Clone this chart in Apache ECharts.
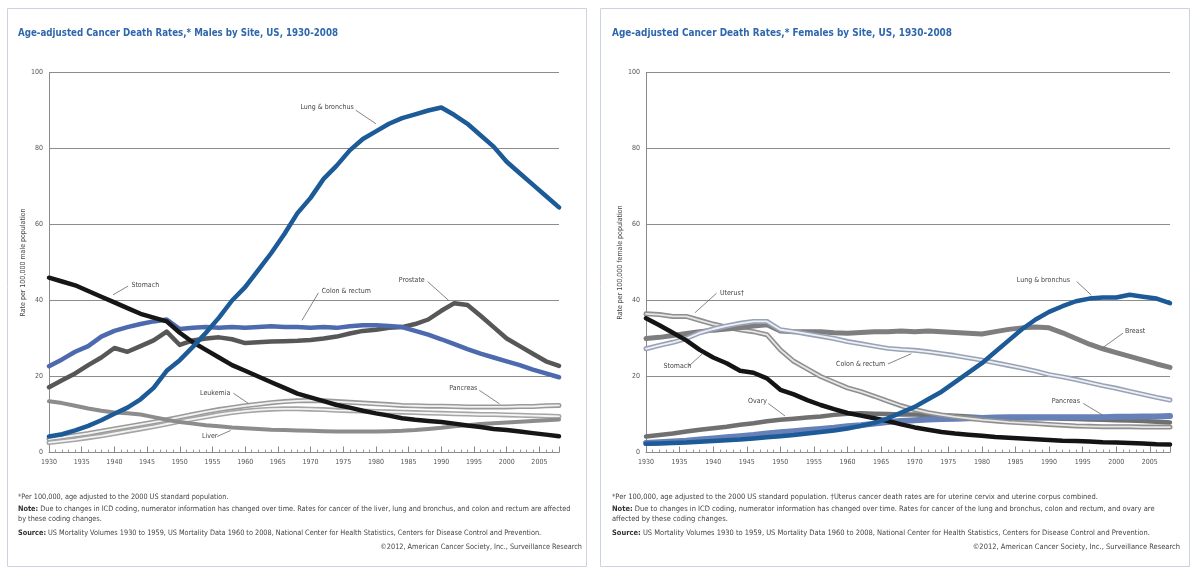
<!DOCTYPE html>
<html>
<head>
<meta charset="utf-8">
<script src="https://cdn.jsdelivr.net/npm/echarts@6/dist/echarts.min.js"></script>
<style>html,body{margin:0;padding:0;background:#fff}#c{width:1192px;height:570px}</style>
</head>
<body>
<div id="c"></div>
<script>
// ---------- DATA ----------
const years = [1930,1932,1934,1936,1938,1940,1942,1944,1946,1948,1950,1952,1954,1956,1958,1960,1962,1964,1966,1968,1970,1972,1974,1976,1978,1980,1982,1984,1986,1988,1990,1992,1994,1996,1998,2000,2002,2004,2006,2008];
const xTickYears = [1930,1935,1940,1945,1950,1955,1960,1965,1970,1975,1980,1985,1990,1995,2000,2005];
const yTicks = [0,20,40,60,80,100];

// Males
const maleLung     = [4.2,4.8,5.8,7.0,8.5,10.2,11.8,14.0,17.0,21.5,24.3,27.8,31.5,35.5,40.0,43.5,48.0,52.5,57.5,63.0,67.0,72.0,75.5,79.5,82.5,84.5,86.5,88.0,89.0,90.0,90.8,88.8,86.5,83.5,80.5,76.5,73.5,70.5,67.5,64.5];
const maleStomach  = [46.0,45.0,44.0,42.5,41.0,39.5,38.0,36.5,35.5,34.5,31.5,29.0,27.0,25.0,23.0,21.5,20.0,18.5,17.0,15.5,14.5,13.5,12.5,11.8,11.0,10.3,9.7,9.0,8.6,8.3,8.0,7.6,7.1,6.7,6.2,5.9,5.5,5.1,4.7,4.3];
const maleColon    = [22.7,24.5,26.5,28.0,30.5,32.0,33.0,33.8,34.5,35.0,32.5,32.8,33.0,32.8,33.0,32.8,33.0,33.2,33.0,33.0,32.8,33.0,32.8,33.2,33.5,33.5,33.3,33.0,32.0,31.0,29.8,28.5,27.2,26.0,25.0,24.0,23.0,21.8,20.8,19.8];
const maleProstate = [17.2,19.0,20.8,23.0,25.0,27.5,26.5,28.0,29.5,31.8,28.3,29.5,30.0,30.3,29.8,28.8,29.0,29.2,29.3,29.4,29.6,30.0,30.5,31.3,32.0,32.3,32.8,33.0,33.8,35.0,37.3,39.3,38.8,36.0,33.0,30.0,28.0,26.0,24.0,22.8];
const malePancreas = [3.5,4.0,4.5,5.0,5.6,6.2,6.8,7.4,8.0,8.6,9.3,10.0,10.7,11.3,11.8,12.3,12.7,13.1,13.4,13.6,13.7,13.6,13.4,13.2,13.0,12.8,12.6,12.4,12.3,12.2,12.2,12.1,12.0,12.0,12.0,12.0,12.1,12.1,12.3,12.4];
const maleLeukemia = [2.6,3.0,3.4,3.9,4.4,5.0,5.6,6.2,6.8,7.5,8.2,8.8,9.4,10.0,10.5,10.9,11.2,11.4,11.5,11.5,11.4,11.3,11.1,11.0,10.9,10.8,10.7,10.6,10.5,10.4,10.3,10.2,10.1,10.0,10.0,9.9,9.8,9.7,9.6,9.5];
const maleLiver    = [13.5,13.0,12.3,11.6,11.0,10.5,10.3,10.0,9.3,8.6,8.0,7.6,7.2,6.9,6.6,6.4,6.2,6.0,5.9,5.8,5.7,5.6,5.5,5.5,5.5,5.5,5.6,5.7,5.9,6.2,6.5,6.9,7.2,7.5,7.7,7.9,8.1,8.3,8.5,8.7];

// Females
const femLung     = [2.3,2.4,2.5,2.6,2.8,3.0,3.2,3.4,3.7,4.0,4.3,4.6,5.0,5.4,5.8,6.3,7.0,7.8,9.0,10.5,12.0,14.0,16.0,18.5,21.0,23.5,26.5,29.5,32.5,35.0,37.0,38.5,39.8,40.5,40.8,40.8,41.5,41.0,40.5,39.3];
const femStomach  = [35.3,33.5,31.5,29.5,27.0,25.0,23.5,21.5,21.0,19.5,16.5,15.3,13.8,12.5,11.4,10.4,9.7,9.0,8.3,7.4,6.6,6.0,5.4,5.0,4.7,4.4,4.1,3.9,3.7,3.5,3.3,3.1,3.0,2.9,2.7,2.6,2.5,2.4,2.2,2.1];
const femBreast   = [30.0,30.3,30.8,31.3,31.8,32.2,32.5,32.8,33.3,33.6,32.0,31.8,31.8,31.8,31.5,31.4,31.6,31.8,31.8,32.0,31.8,32.0,31.8,31.6,31.4,31.2,31.8,32.4,32.8,33.0,32.8,31.5,30.0,28.5,27.3,26.3,25.3,24.3,23.3,22.4];
const femUterus   = [36.5,36.3,35.8,35.8,34.8,33.8,33.0,32.3,31.8,31.0,27.0,24.0,22.0,20.0,18.5,17.0,16.0,14.8,13.5,12.3,11.3,10.5,9.9,9.4,9.0,8.6,8.3,8.0,7.8,7.6,7.4,7.2,7.0,6.9,6.8,6.8,6.8,6.7,6.7,6.7];
const femColon    = [27.3,28.2,29.0,30.0,31.5,32.5,33.3,34.0,34.5,34.5,32.3,31.8,31.2,30.6,30.0,29.2,28.6,28.0,27.4,27.1,26.9,26.5,26.0,25.5,24.9,24.3,23.6,22.9,22.2,21.4,20.5,19.9,19.2,18.4,17.6,16.9,16.1,15.3,14.5,13.8];
const femOvary    = [4.2,4.6,5.0,5.5,6.0,6.4,6.8,7.3,7.7,8.2,8.6,8.9,9.2,9.5,9.9,10.2,10.3,10.2,10.1,10.0,10.0,9.9,9.8,9.7,9.5,9.3,9.2,9.1,9.0,9.0,9.0,8.9,8.8,8.7,8.6,8.5,8.4,8.3,8.1,7.9];
const femPancreas = [2.5,2.7,2.9,3.1,3.4,3.7,4.0,4.3,4.6,5.0,5.3,5.6,5.9,6.2,6.5,6.9,7.2,7.6,8.0,8.3,8.5,8.7,8.8,8.9,9.0,9.1,9.2,9.3,9.3,9.3,9.3,9.3,9.3,9.3,9.3,9.4,9.4,9.5,9.5,9.6];

// Texts
const titles = ["Age-adjusted Cancer Death Rates,* Males by Site, US, 1930-2008",
                "Age-adjusted Cancer Death Rates,* Females by Site, US, 1930-2008"];
const yNames = ["Rate per 100,000 male population", "Rate per 100,000 female population"];
const maleNotes = [
  "*Per 100,000, age adjusted to the 2000 US standard population.",
  "{b|Note:} Due to changes in ICD coding, numerator information has changed over time. Rates for cancer of the liver, lung and bronchus, and colon and rectum are affected",
  "by these coding changes.",
  "{b|Source:} US Mortality Volumes 1930 to 1959, US Mortality Data 1960 to 2008, National Center for Health Statistics, Centers for Disease Control and Prevention.",
  "©2012, American Cancer Society, Inc., Surveillance Research"
];
const femNotes = [
  "*Per 100,000, age adjusted to the 2000 US standard population. †Uterus cancer death rates are for uterine cervix and uterine corpus combined.",
  "{b|Note:} Due to changes in ICD coding, numerator information has changed over time. Rates for cancer of the lung and bronchus, colon and rectum, and ovary are",
  "affected by these coding changes.",
  "{b|Source:} US Mortality Volumes 1930 to 1959, US Mortality Data 1960 to 2008, National Center for Health Statistics, Centers for Disease Control and Prevention.",
  "©2012, American Cancer Society, Inc., Surveillance Research"
];

// Annotation labels (data-space anchors)
const maleLabels = [
  {t:"Lung & bronchus", at:[1976.6,91.0], align:"right", from:[1976.9,90.1], to:[1980.0,86.5]},
  {t:"Stomach", at:[1942.6,44.0], align:"left", from:[1942.1,43.8], to:[1939.8,41.5]},
  {t:"Colon & rectum", at:[1971.7,42.5], align:"left", from:[1971.2,42.0], to:[1968.7,34.8]},
  {t:"Prostate", at:[1983.5,45.4], align:"left", from:[1987.9,45.0], to:[1991.2,39.9]},
  {t:"Leukemia", at:[1953.1,15.6], align:"left", from:[1958.2,15.6], to:[1960.5,12.9]},
  {t:"Pancreas", at:[1991.2,16.9], align:"left", from:[1995.8,16.4], to:[1998.9,12.8]},
  {t:"Liver", at:[1953.4,4.2], align:"left", from:[1955.7,4.2], to:[1957.8,5.8]}
];
const femLabels = [
  {t:"Uterus†", at:[1941.0,41.9], align:"left", from:[1940.5,41.9], to:[1937.3,36.8]},
  {t:"Stomach", at:[1932.6,22.6], align:"left", from:[1936.3,22.6], to:[1938.4,26.0]},
  {t:"Colon & rectum", at:[1965.6,23.3], align:"right", from:[1966.0,23.3], to:[1969.5,26.0]},
  {t:"Ovary", at:[1945.2,13.4], align:"left", from:[1948.2,12.9], to:[1950.7,9.6]},
  {t:"Lung & bronchus", at:[1985.2,45.4], align:"left", from:[1994.1,45.0], to:[1996.3,41.4]},
  {t:"Breast", at:[2001.3,31.8], align:"left", from:[2001.0,31.4], to:[1998.0,27.6]},
  {t:"Pancreas", at:[1990.4,13.4], align:"left", from:[1995.1,12.9], to:[1998.0,9.8]}
];

// ---------- CHART ----------
const FONT = '"Liberation Sans Narrow", "DejaVu Sans Condensed", "Liberation Sans", Arial, sans-serif';
const chart = echarts.init(document.getElementById('c'), null, {renderer:'canvas'});

function ser(values, g, color, width, z) {
  return {
    type:'line', xAxisIndex:g, yAxisIndex:g, silent:true, animation:false,
    showSymbol:false, symbol:'none', z:z,
    data: years.map((y,i)=>[y, values[i]]),
    lineStyle:{color:color, width:width, join:'round', cap:'round'}
  };
}
function outlined(values, g, outer, inner, z) {
  return [ser(values, g, outer, 5, z), ser(values, g, inner, 1.8, z+0.1)];
}

const series = [
  // male
  ...outlined(malePancreas, 0, '#9a9a9a', '#f2f2f2', 2),
  ...outlined(maleLeukemia, 0, '#a5a5a5', '#f4f4f4', 2.2),
  ser(maleLiver, 0, '#8c8c8c', 4, 2.4),
  ser(maleProstate, 0, '#575757', 4.5, 3),
  ser(maleColon, 0, '#4d6aae', 4.5, 3.2),
  ser(maleStomach, 0, '#161616', 4.5, 3.4),
  ser(maleLung, 0, '#1c5a98', 4.5, 3.6),
  // female
  ser(femOvary, 1, '#707070', 4.5, 2),
  ser(femPancreas, 1, '#6680b8', 6, 2.2),
  ...outlined(femUterus, 1, '#8f8f8f', '#e6e6e6', 2.4),
  ser(femBreast, 1, '#7e7e7e', 5, 2.8),
  ...outlined(femColon, 1, '#9aa3b5', '#eef1f7', 3),
  ser(femStomach, 1, '#141414', 4.5, 3.4),
  ser(femLung, 1, '#1c5a98', 4.5, 3.6)
];

function xAxis(g) {
  return {
    type:'value', gridIndex:g, min:1930, max:2008, interval:5,
    axisLine:{show:true, lineStyle:{color:'#8a8a8a', width:1}},
    axisTick:{show:true, inside:true, length:6, lineStyle:{color:'#8a8a8a'}},
    minorTick:{show:true, splitNumber:5, length:3, lineStyle:{color:'#9a9a9a'}},
    splitLine:{show:false},
    axisLabel:{fontSize:7, color:'#555', fontFamily:FONT, margin:6, showMaxLabel:false,
      formatter: v => xTickYears.indexOf(v) >= 0 ? String(v) : ''}
  };
}
function yAxis(g) {
  return {
    type:'value', gridIndex:g, min:yTicks[0], max:yTicks[yTicks.length-1], interval:20,
    name: yNames[g], nameLocation:'middle', nameRotate:90, nameGap:17,
    nameTextStyle:{fontSize:7, color:'#444', fontFamily:FONT},
    axisLine:{show:true, lineStyle:{color:'#8a8a8a', width:1}},
    axisTick:{show:false},
    splitLine:{show:true, lineStyle:{color:'#8c8c8c', width:1}},
    axisLabel:{fontSize:7, color:'#555', fontFamily:FONT, margin:6}
  };
}

chart.setOption({
  backgroundColor:'#ffffff',
  animation:false,
  grid:[
    {left:49, right:633, top:72.5, bottom:117.5},
    {left:646, right:22, top:72.5, bottom:117.5}
  ],
  xAxis:[xAxis(0), xAxis(1)],
  yAxis:[yAxis(0), yAxis(1)],
  series: series
});

// ---------- GRAPHICS (panels, titles, notes, annotations) ----------
const mctx = document.createElement('canvas').getContext('2d');
function textW(str, size, weight) {
  mctx.font = (weight || 'normal') + ' ' + size + 'px ' + FONT;
  return mctx.measureText(str.replace(/\{b\|([^}]*)\}/g, '$1')).width;
}

const gfx = [];
gfx.push({type:'rect', z:-1, shape:{x:7.5, y:8.5, width:579, height:558}, style:{fill:'none', stroke:'#cbd3e2', lineWidth:1}});
gfx.push({type:'rect', z:-1, shape:{x:600.5, y:8.5, width:589, height:558}, style:{fill:'none', stroke:'#cbd3e2', lineWidth:1}});

// titles: [x, y, target width]
[[18,33,320],[612,33,340]].forEach((p,i)=>{
  const sz = 11;
  const sx = Math.min(1, p[2] / textW(titles[i], sz, 'bold'));
  gfx.push({type:'text', x:p[0], y:p[1], scaleX:sx, style:{text:titles[i], fill:'#2f67ad', fontSize:sz, fontWeight:'bold', fontFamily:FONT, verticalAlign:'middle'}});
});

function notes(arr, x, rx, targetW) {
  const ys = [497, 509.5, 519.5, 533.5, 547.5];
  const sz = 7.4;
  const sx = Math.min(1.15, targetW / textW(arr[1], sz));
  arr.forEach((t,i)=>{
    const last = i === arr.length-1;
    gfx.push({type:'text', x: last ? rx : x, y: ys[i], scaleX:sx, style:{
      text:t, fill:'#444', fontSize:sz, fontFamily:FONT, verticalAlign:'middle', align: last ? 'right':'left',
      rich:{b:{fontWeight:'bold', fontSize:sz, fontFamily:FONT, fill:'#333'}}
    }});
  });
}
notes(maleNotes, 18, 582, 550);
notes(femNotes, 612, 1180, 540);

function annot(list, g) {
  list.forEach(a=>{
    const p = chart.convertToPixel({gridIndex:g}, a.at);
    const f = chart.convertToPixel({gridIndex:g}, a.from);
    const t = chart.convertToPixel({gridIndex:g}, a.to);
    gfx.push({type:'line', z:100, shape:{x1:f[0], y1:f[1], x2:t[0], y2:t[1]}, style:{stroke:'#666', lineWidth:0.8}});
    gfx.push({type:'text', z:100, x:p[0], y:p[1], style:{text:a.t, fill:'#444', fontSize:7, fontFamily:FONT, align:a.align, verticalAlign:'middle'}});
  });
}
annot(maleLabels, 0);
annot(femLabels, 1);

chart.setOption({graphic: gfx});
</script>
</body>
</html>
